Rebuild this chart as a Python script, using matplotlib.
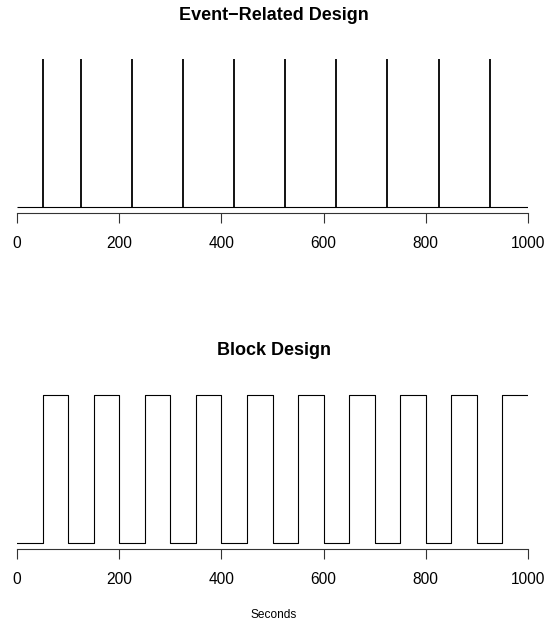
import matplotlib
matplotlib.use("Agg")
import matplotlib.pyplot as plt

plt.rcParams['font.family'] = ['Liberation Sans', 'DejaVu Sans']

# Time range (seconds)
t_start = 0
t_end = 1000
tick_values = [0, 200, 400, 600, 800, 1000]

# Event-related design: event onsets
event_times = [50, 125, 225, 325, 425, 525, 625, 725, 825, 925]

# Block design: on/off boxcar
block_times = [0, 50, 100, 150, 200, 250, 300, 350, 400, 450, 500,
               550, 600, 650, 700, 750, 800, 850, 900, 950, 1000]
block_values = [0, 1, 0, 1, 0, 1, 0, 1, 0, 1, 0,
                1, 0, 1, 0, 1, 0, 1, 0, 1, 1]

W, H = 548, 628
fig = plt.figure(figsize=(W / 100, H / 100), dpi=100)


def px_axes(left, top, right, bottom):
    return fig.add_axes([left / W, 1 - bottom / H, (right - left) / W, (bottom - top) / H])


def style_axis(ax):
    ax.set_xlim(t_start, t_end)
    ax.set_ylim(-0.04, 1.04)
    for s in ['top', 'right', 'left']:
        ax.spines[s].set_visible(False)
    ax.spines['bottom'].set_linewidth(0.8)
    ax.spines['bottom'].set_color('#333333')
    ax.set_yticks([])
    ax.set_xticks(tick_values)
    ax.tick_params(axis='x', length=7.3, width=0.8, color='#333333', pad=9, labelsize=11.2)


# Top panel
ax1 = px_axes(17, 53.4, 528, 212.9)
ax1.vlines(event_times, 0, 1, color='black', linewidth=1.3)
ax1.hlines(0, t_start, t_end, color='black', linewidth=0.8)
style_axis(ax1)
fig.text(0.5, 1 - 15 / H, 'Event\u2212Related Design', ha='center', va='center',
         fontsize=13, fontweight='bold')

# Bottom panel
ax2 = px_axes(17, 389.4, 528, 549)
ax2.step(block_times, block_values, where='post', color='black', linewidth=0.8)
style_axis(ax2)
fig.text(0.5, 1 - 350.7 / H, 'Block Design', ha='center', va='center',
         fontsize=13, fontweight='bold')

fig.text(0.5, 1 - 615 / H, 'Seconds', ha='center', va='center', fontsize=8.6)

fig.savefig('out.png', dpi=100)
